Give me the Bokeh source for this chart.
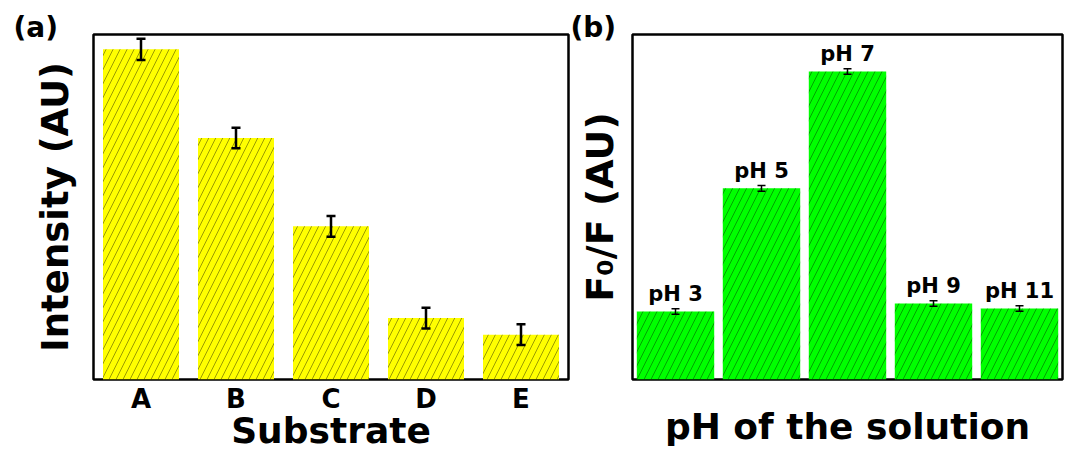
from bokeh.plotting import figure
from bokeh.layouts import row
from bokeh.models import (ColumnDataSource, Range1d, FixedTicker, Whisker, TeeHead, Title)
from bokeh.core.properties import value
from bokeh.embed import file_html
from bokeh.resources import INLINE

# ---- data ----
substrates = ["A", "B", "C", "D", "E"]
intensity = [95.7, 70.0, 44.4, 17.8, 13.0]
intensity_err = [3.1, 3.0, 3.0, 3.0, 3.0]

ph_labels = ["pH 3", "pH 5", "pH 7", "pH 9", "pH 11"]
f0f = [19.7, 55.4, 89.3, 22.0, 20.6]
f0f_err = [0.8, 0.8, 0.8, 0.8, 0.8]

FONT = "DejaVu Sans"


def style(p):
    p.xgrid.visible = False
    p.ygrid.visible = False
    p.outline_line_color = "black"
    p.outline_line_width = 2.5
    p.background_fill_color = "white"
    p.border_fill_color = "white"
    for ax in [p.xaxis[0], p.yaxis[0]]:
        ax.axis_line_color = None
        ax.major_tick_line_color = None
        ax.minor_tick_line_color = None
        ax.major_tick_out = 0
        ax.major_tick_in = 0
        ax.minor_tick_out = 0
        ax.minor_tick_in = 0
        ax.axis_label_text_font = FONT
        ax.axis_label_text_font_style = "bold"
        ax.axis_label_text_color = "black"
        ax.major_label_text_font = FONT
        ax.major_label_text_font_style = "bold"
        ax.major_label_text_color = "black"
    p.yaxis[0].ticker = FixedTicker(ticks=[])
    p.yaxis[0].major_label_standoff = 0


def panel_tag(p, text, offset):
    p.add_layout(Title(text=text, align="left", offset=offset, standoff=-19,
                       text_font=FONT, text_font_style="bold", text_font_size="28px",
                       text_color="black"), "above")


# ---- panel (a) ----
src_a = ColumnDataSource(dict(
    x=substrates, top=intensity,
    upper=[v + e for v, e in zip(intensity, intensity_err)],
    lower=[v - e for v, e in zip(intensity, intensity_err)],
))
p1 = figure(x_range=substrates, y_range=Range1d(0, 100), width=570, height=455,
            output_backend="svg", toolbar_location=None,
            min_border_left=93, min_border_right=2, min_border_top=34, min_border_bottom=74)
p1.x_range.range_padding = 0
style(p1)
p1.vbar(x="x", top="top", bottom=0, width=0.8, source=src_a,
        fill_color="#FFFF00", line_color=None,
        hatch_pattern="/", hatch_color="#222200", hatch_alpha=0.75,
        hatch_scale=14, hatch_weight=0.6)
p1.add_layout(Whisker(source=src_a, base="x", upper="upper", lower="lower",
                      line_color="black", line_width=2.5, level="overlay",
                      upper_head=TeeHead(size=9, line_width=2.5, line_color="black"),
                      lower_head=TeeHead(size=9, line_width=2.5, line_color="black")))
p1.xaxis[0].major_label_text_font_size = "26px"
p1.xaxis[0].major_label_standoff = 4
p1.xaxis[0].axis_label = "Substrate"
p1.xaxis[0].axis_label_text_font_size = "36px"
p1.xaxis[0].axis_label_standoff = -7
p1.yaxis[0].axis_label = "Intensity (AU)"
p1.yaxis[0].axis_label_text_font_size = "37px"
p1.yaxis[0].axis_label_standoff = 17
panel_tag(p1, "(a)", -80)

# ---- panel (b) ----
src_b = ColumnDataSource(dict(
    x=ph_labels, top=f0f,
    upper=[v + e for v, e in zip(f0f, f0f_err)],
    lower=[v - e for v, e in zip(f0f, f0f_err)],
))
p2 = figure(x_range=ph_labels, y_range=Range1d(0, 100), width=515, height=455,
            output_backend="svg", toolbar_location=None,
            min_border_left=62, min_border_right=23, min_border_top=34, min_border_bottom=76)
p2.x_range.range_padding = 0
style(p2)
p2.vbar(x="x", top="top", bottom=0, width=0.9, source=src_b,
        fill_color="#00FF00", line_color=None,
        hatch_pattern="/", hatch_color="#003300", hatch_alpha=0.75,
        hatch_scale=14, hatch_weight=0.6)
p2.add_layout(Whisker(source=src_b, base="x", upper="upper", lower="lower",
                      line_color="black", line_width=1.5, level="overlay",
                      upper_head=TeeHead(size=8, line_width=1.5, line_color="black"),
                      lower_head=TeeHead(size=8, line_width=1.5, line_color="black")))
p2.text(x="x", y="upper", text="x", source=src_b, text_align="center",
        text_baseline="alphabetic", y_offset=-15,
        text_font=value(FONT), text_font_style="bold", text_font_size="21px",
        text_color="black")
p2.xaxis[0].ticker = FixedTicker(ticks=[])
p2.xaxis[0].major_label_text_font_size = "0px"
p2.xaxis[0].major_label_standoff = 0
p2.xaxis[0].axis_label = "pH of the solution"
p2.xaxis[0].axis_label_text_font_size = "36px"
p2.xaxis[0].axis_label_standoff = 26
p2.xaxis[0].axis_label_text_line_height = 0.9
p2.yaxis[0].axis_label = "F\u2080/F (AU)"
p2.yaxis[0].axis_label_text_font_size = "38px"
p2.yaxis[0].axis_label_standoff = 11
panel_tag(p2, "(b)", -62)

layout = row(p1, p2)
open("out.html", "w").write(file_html(layout, INLINE))
